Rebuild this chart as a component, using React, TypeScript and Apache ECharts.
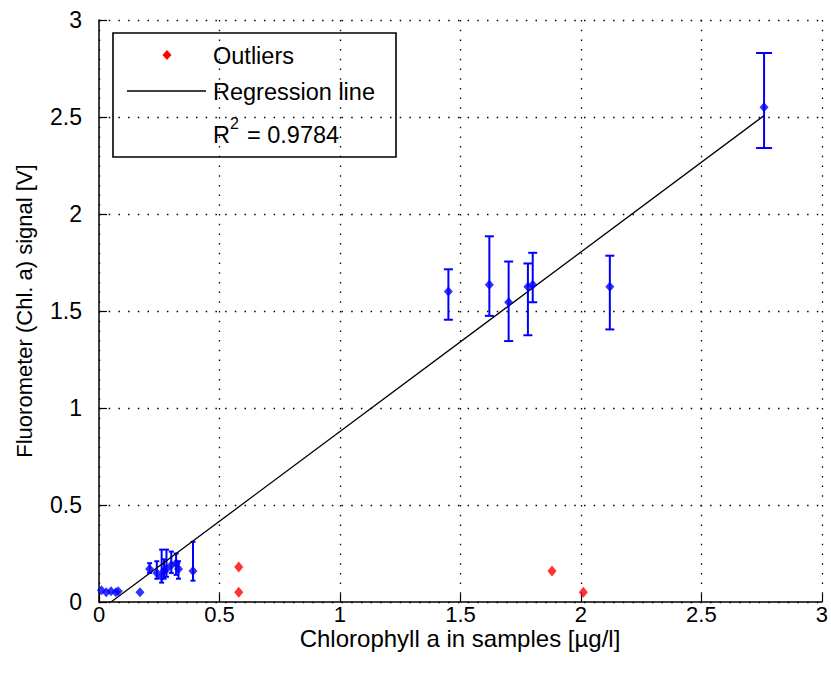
import React, { useEffect, useRef } from "react";
import * as echarts from "echarts";

// ---- data ----
const nearZeroX = [0.01, 0.03, 0.05, 0.07, 0.08, 0.17];
const nearZeroY = [0.06, 0.05, 0.055, 0.05, 0.055, 0.05];

const clusterX = [0.21, 0.24, 0.26, 0.27, 0.28, 0.3, 0.32, 0.33, 0.39];
const clusterY = [0.17, 0.15, 0.13, 0.16, 0.17, 0.19, 0.2, 0.17, 0.16];
const clusterLo = [0.15, 0.12, 0.1, 0.12, 0.13, 0.15, 0.14, 0.12, 0.11];
const clusterHi = [0.2, 0.21, 0.27, 0.22, 0.27, 0.26, 0.25, 0.21, 0.31];

const midX = [1.45, 1.62, 1.7, 1.78, 1.8, 2.12];
const midY = [1.6, 1.635, 1.545, 1.625, 1.635, 1.625];
const midLo = [1.455, 1.475, 1.345, 1.375, 1.545, 1.405];
const midHi = [1.715, 1.885, 1.755, 1.745, 1.8, 1.785];

const topX = [2.76];
const topY = [2.55];
const topLo = [2.34];
const topHi = [2.83];

const outlierX = [0.58, 0.58, 1.88, 2.01];
const outlierY = [0.18, 0.05, 0.16, 0.05];

const regX = [0.05, 2.76];
const regY = [0, 2.507];

const xTicks = [0, 0.5, 1, 1.5, 2, 2.5, 3];
const yTicks = [0, 0.5, 1, 1.5, 2, 2.5, 3];

const xTitle = "Chlorophyll a in samples [µg/l]";
const yTitle = "Fluorometer (Chl. a) signal [V]";
const legendLabels = ["Outliers", "Regression line"];
const r2Label = ["R", "2", "= 0.9784"];

const FONT = "'Liberation Sans', Arial, sans-serif";
const BLUE = "#0000ff";

function errSeries(xs: number[], ys: number[], lo: number[], hi: number[], cap: number) {
  return {
    type: "custom",
    z: 2,
    silent: true,
    data: xs.map((x, i) => [x, ys[i], lo[i], hi[i]]),
    encode: { x: 0, y: [1, 2, 3] },
    renderItem: (params: any, api: any) => {
      const x = api.value(0);
      const pLo = api.coord([x, api.value(2)]);
      const pHi = api.coord([x, api.value(3)]);
      const style = { stroke: BLUE, lineWidth: 2, fill: "none" };
      return {
        type: "group",
        children: [
          { type: "line", shape: { x1: pLo[0], y1: pLo[1], x2: pHi[0], y2: pHi[1] }, style },
          { type: "line", shape: { x1: pLo[0] - cap, y1: pLo[1], x2: pLo[0] + cap, y2: pLo[1] }, style },
          { type: "line", shape: { x1: pHi[0] - cap, y1: pHi[1], x2: pHi[0] + cap, y2: pHi[1] }, style },
        ],
      };
    },
  };
}

export default function App() {
  const ref = useRef<HTMLDivElement>(null);
  useEffect(() => {
    if (!ref.current) return;
    const chart = echarts.init(ref.current, null, { renderer: "svg" });
    const blueMarker = {
      type: "scatter",
      z: 4,
      symbol: "diamond",
      symbolSize: [9, 10],
      itemStyle: { color: BLUE },
    };
    const splitStyle = { color: "#000", width: 1.3, type: [1.5, 8.2] as any };
    const legendFont = `23.5px ${FONT}`;
    chart.setOption({
      animation: false,
      backgroundColor: "#fff",
      textStyle: { fontFamily: FONT },
      grid: { left: 99, right: 3, top: 20, bottom: 71, containLabel: false },
      xAxis: {
        type: "value",
        min: xTicks[0],
        max: xTicks[xTicks.length - 1],
        interval: xTicks[1] - xTicks[0],
        axisLine: { show: true, onZero: false, lineStyle: { color: "#000", width: 1.5 } },
        axisTick: { show: true, inside: true, length: 8, lineStyle: { color: "#000", width: 1.2 } },
        axisLabel: { color: "#000", fontSize: 22, fontFamily: FONT, margin: 2, lineHeight: 20, formatter: (v: number) => String(v) },
        splitLine: { show: true, lineStyle: splitStyle },
      },
      yAxis: {
        type: "value",
        min: yTicks[0],
        max: yTicks[yTicks.length - 1],
        interval: yTicks[1] - yTicks[0],
        axisLine: { show: true, onZero: false, lineStyle: { color: "#000", width: 1.5 } },
        axisTick: { show: true, inside: true, length: 8, lineStyle: { color: "#000", width: 1.2 } },
        axisLabel: { color: "#000", fontSize: 23, fontFamily: FONT, margin: 17, formatter: (v: number) => String(v) },
        splitLine: { show: true, lineStyle: splitStyle },
      },
      series: [
        errSeries(clusterX, clusterY, clusterLo, clusterHi, 2.5),
        errSeries(midX, midY, midLo, midHi, 4.5),
        errSeries(topX, topY, topLo, topHi, 8),
        {
          type: "line",
          z: 3,
          data: regX.map((x, i) => [x, regY[i]]),
          showSymbol: false,
          lineStyle: { color: "#000", width: 1.3 },
        },
        { ...blueMarker, data: nearZeroX.map((x, i) => [x, nearZeroY[i]]) },
        { ...blueMarker, data: clusterX.map((x, i) => [x, clusterY[i]]) },
        { ...blueMarker, data: midX.map((x, i) => [x, midY[i]]) },
        { ...blueMarker, data: topX.map((x, i) => [x, topY[i]]) },
        {
          type: "scatter",
          z: 4,
          symbol: "diamond",
          symbolSize: [9, 11],
          itemStyle: { color: "#ff0000" },
          data: outlierX.map((x, i) => [x, outlierY[i]]),
        },
      ],
      graphic: [
        {
          type: "text",
          x: 460,
          y: 638,
          style: { text: xTitle, font: `24px ${FONT}`, fill: "#000", textAlign: "center", textVerticalAlign: "middle" },
        },
        {
          type: "text",
          x: 24,
          y: 311,
          rotation: Math.PI / 2,
          style: { text: yTitle, font: `22px ${FONT}`, fill: "#000", textAlign: "center", textVerticalAlign: "middle" },
        },
        {
          type: "group",
          z: 100,
          children: [
            {
              type: "rect",
              shape: { x: 113, y: 33, width: 283, height: 124 },
              style: { fill: "#fff", stroke: "#000", lineWidth: 1.6 },
            },
            {
              type: "polygon",
              shape: { points: [[167, 50], [171.5, 55], [167, 60], [162.5, 55]] },
              style: { fill: "#ff0000" },
            },
            {
              type: "text",
              x: 213,
              y: 56,
              style: { text: legendLabels[0], font: legendFont, fill: "#000", textVerticalAlign: "middle" },
            },
            {
              type: "line",
              shape: { x1: 127, y1: 91, x2: 206, y2: 91 },
              style: { stroke: "#000", lineWidth: 1.3 },
            },
            {
              type: "text",
              x: 213,
              y: 92,
              style: { text: legendLabels[1], font: legendFont, fill: "#000", textVerticalAlign: "middle" },
            },
            {
              type: "text",
              x: 213,
              y: 135,
              style: { text: r2Label[0], font: legendFont, fill: "#000", textVerticalAlign: "middle" },
            },
            {
              type: "text",
              x: 230,
              y: 123,
              style: { text: r2Label[1], font: `16px ${FONT}`, fill: "#000", textVerticalAlign: "middle" },
            },
            {
              type: "text",
              x: 247,
              y: 135,
              style: { text: r2Label[2], font: legendFont, fill: "#000", textVerticalAlign: "middle" },
            },
          ],
        },
      ],
    });
    return () => chart.dispose();
  }, []);
  return (
    <div
      ref={ref}
      style={{ position: "absolute", left: 0, top: 0, width: 831, height: 673, background: "#fff" }}
    />
  );
}
